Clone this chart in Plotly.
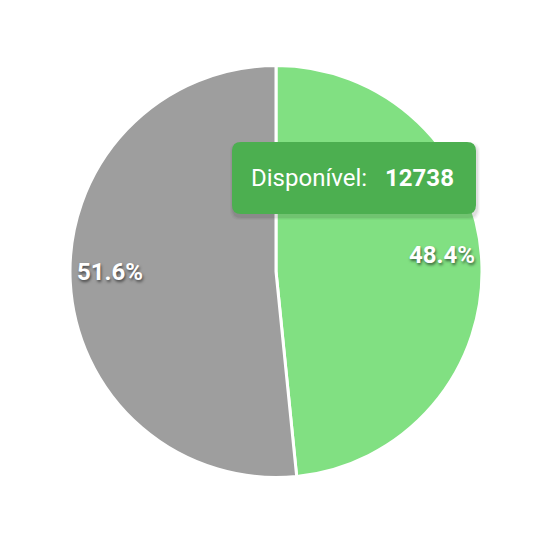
import math
import plotly.graph_objects as go

labels = ["Disponível", "Utilizado"]
values = [12738, 13580]
colors = ["#81E082", "#9E9E9E"]
tooltip_index = 0

W, H = 554, 540
CX, CY, R = 276, 271.5, 206


def px(x):
    return x / W


def py(y):
    return 1 - y / H


def rounded_rect(x0, y0, x1, y1, r):
    pts = [
        f"M {px(x0 + r)} {py(y0)}",
        f"L {px(x1 - r)} {py(y0)}",
        f"Q {px(x1)} {py(y0)} {px(x1)} {py(y0 + r)}",
        f"L {px(x1)} {py(y1 - r)}",
        f"Q {px(x1)} {py(y1)} {px(x1 - r)} {py(y1)}",
        f"L {px(x0 + r)} {py(y1)}",
        f"Q {px(x0)} {py(y1)} {px(x0)} {py(y1 - r)}",
        f"L {px(x0)} {py(y0 + r)}",
        f"Q {px(x0)} {py(y0)} {px(x0 + r)} {py(y0)}",
        "Z",
    ]
    return " ".join(pts)


fig = go.Figure(
    go.Pie(
        labels=labels,
        values=values,
        sort=False,
        direction="clockwise",
        rotation=0,
        marker=dict(colors=colors, line=dict(color="#FFFFFF", width=3)),
        textinfo="none",
        hoverinfo="none",
        domain=dict(x=[px(CX - R), px(CX + R)], y=[py(CY + R), py(CY - R)]),
    )
)

total = sum(values)
start = 0.0
annotations = []
for v in values:
    frac = v / total
    mid = (start + frac / 2) * 2 * math.pi
    k = 0.806
    x = CX + R * k * math.sin(mid)
    y = CY - R * k * math.cos(mid) - 8
    annotations.append(
        dict(
            x=px(x), y=py(y), xref="paper", yref="paper",
            text=f"{frac * 100:.1f}%", showarrow=False,
            xanchor="center", yanchor="middle",
            font=dict(family="Roboto", size=24, color="#FFFFFF", weight="bold",
                      shadow="1px 2px 3px rgba(0,0,0,0.55)"),
        )
    )
    start += frac

tx0, ty0, tx1, ty1 = 232, 142, 476, 214
shapes = []
for i, a in enumerate([0.03, 0.04, 0.06]):
    o = 3 - i
    shapes.append(dict(type="path", xref="paper", yref="paper",
                       path=rounded_rect(tx0 - o + 1, ty0 - o + 3, tx1 + o + 1, ty1 + o + 3, 10),
                       fillcolor=f"rgba(0,0,0,{a})", line=dict(width=0), layer="above"))
shapes.append(dict(type="path", xref="paper", yref="paper",
                   path=rounded_rect(tx0, ty0, tx1, ty1, 9),
                   fillcolor="#4CAF50", line=dict(width=0), layer="above"))

annotations.append(
    dict(
        x=px((tx0 + tx1) / 2 - 2), y=py((ty0 + ty1) / 2), xref="paper", yref="paper",
        text=f"{labels[tooltip_index]}:&nbsp;&nbsp; <b>{values[tooltip_index]}</b>",
        showarrow=False, xanchor="center", yanchor="middle",
        font=dict(family="Roboto", size=24, color="#FFFFFF"),
    )
)

fig.update_layout(
    width=W, height=H,
    margin=dict(l=0, r=0, t=0, b=0),
    paper_bgcolor="#FFFFFF",
    plot_bgcolor="#FFFFFF",
    showlegend=False,
    shapes=shapes,
    annotations=annotations,
    hovermode=False,
)

fig.write_html(
    "out.html",
    config={"displayModeBar": False},
    post_script="document.body.style.margin='0';document.body.style.overflow='hidden';",
)
